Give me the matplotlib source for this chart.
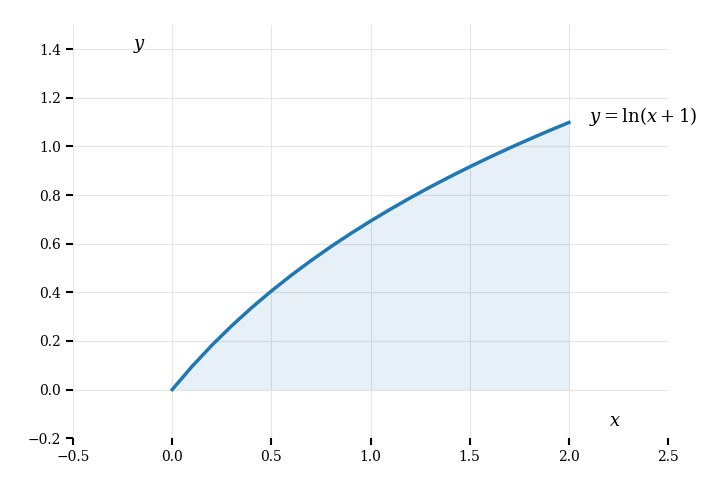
import numpy as np
import matplotlib
matplotlib.use("Agg")
import matplotlib.pyplot as plt

plt.rcParams['font.family'] = 'DejaVu Serif'
plt.rcParams['mathtext.fontset'] = 'dejavuserif'

# y = ln(x+1) sampled every 0.1 on [0, 2]
xs = [0.0, 0.1, 0.2, 0.3, 0.4, 0.5, 0.6, 0.7, 0.8, 0.9, 1.0,
      1.1, 1.2, 1.3, 1.4, 1.5, 1.6, 1.7, 1.8, 1.9, 2.0]
ys = [0.0, 0.0953, 0.1823, 0.2624, 0.3365, 0.4055, 0.47, 0.5306, 0.5878, 0.6419, 0.6931,
      0.7419, 0.7885, 0.8329, 0.8755, 0.9163, 0.9555, 0.9933, 1.0296, 1.0647, 1.0986]

x_ticks = [-0.5, 0.0, 0.5, 1.0, 1.5, 2.0, 2.5]
y_ticks = [-0.2, 0.0, 0.2, 0.4, 0.6, 0.8, 1.0, 1.2, 1.4]

fig = plt.figure(figsize=(7.23, 4.88), dpi=100)
ax = fig.add_axes([0.101, 0.102, 0.823, 0.847])

ax.fill_between(xs, 0, ys, color='#1f77b4', alpha=0.11, linewidth=0)
ax.plot(xs, ys, color='#1f77b4', linewidth=2.5)

ax.set_xlim(-0.5, 2.5)
ax.set_ylim(-0.2, 1.5)
ax.set_xticks(x_ticks)
ax.set_yticks(y_ticks)
ax.grid(True, color='#e5e5e5', linewidth=0.8)
ax.set_axisbelow(True)
for s in ax.spines.values():
    s.set_visible(False)
ax.tick_params(length=5, width=1.5, labelsize=10)

ax.text(-0.2, 1.4, '$y$', fontsize=13, ha='left', va='baseline')
ax.text(2.2, -0.15, '$x$', fontsize=13, ha='left', va='baseline')
ax.text(2.1, 1.1, r'$y = \ln(x + 1)$', fontsize=13, ha='left', va='baseline')

fig.savefig('out.png', dpi=100)
